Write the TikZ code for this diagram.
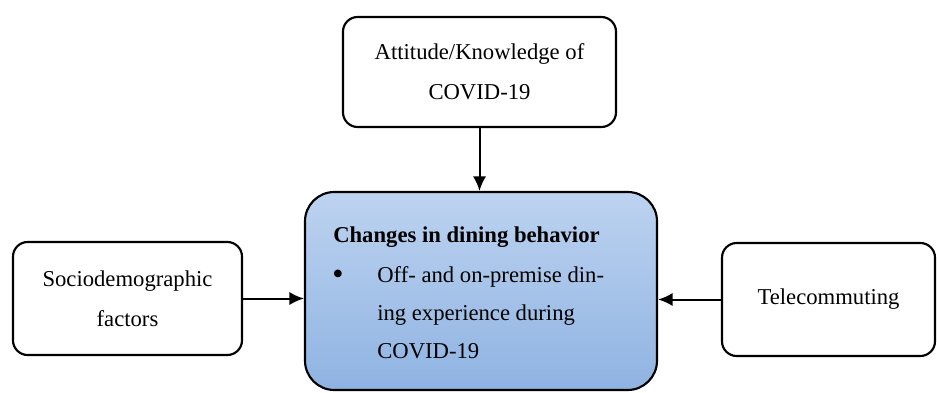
\documentclass[tikz,border=0pt]{standalone}
\usepackage{fontspec}
\setmainfont{Liberation Serif}
\usetikzlibrary{arrows.meta,positioning,calc}
\definecolor{boxtop}{HTML}{BDD3F0}
\definecolor{boxbot}{HTML}{8FB3E2}
\tikzset{
  px/.style={x=0.75pt,y=-0.75pt},
  plainbox/.style={draw=black,line width=1.6pt,rounded corners=11pt,fill=white,align=center,inner sep=0pt,
    font=\fontsize{17}{30}\selectfont},
  mainbox/.style={draw=black,line width=1.6pt,rounded corners=22pt,top color=boxtop,bottom color=boxbot,inner sep=0pt},
  txt/.style={inner sep=0pt,anchor=base west,font=\fontsize{17}{29}\selectfont},
  conn/.style={line width=1.5pt,-{Latex[length=11pt,width=10pt]}}
}
\begin{document}
\begin{tikzpicture}[px]
\useasboundingbox (0,0) rectangle (937,392);
\node[plainbox,minimum width=204.75pt,minimum height=82.5pt] (top) at (479.5,72) {Attitude/Knowledge of\\COVID-19};
\node[plainbox,minimum width=171.75pt,minimum height=84.75pt] (left) at (127.5,298.5) {Sociodemographic\\factors};
\node[plainbox,minimum width=159.75pt,minimum height=84.75pt] (right) at (828.5,299.5) {Telecommuting};
\node[mainbox,minimum width=264pt,minimum height=148.5pt] (center) at (481,291) {};
\node[txt,font=\fontsize{17}{29}\selectfont\bfseries] (title) at (333,242) {Changes in dining behavior};
\node[txt,anchor=base,font=\fontsize{24}{29}\selectfont] (bullet) at (338,284) {\textbullet};
\node[txt] (l1) at (377,282) {Off- and on-premise din-};
\node[txt] (l2) at (377,320) {ing experience during};
\node[txt] (l3) at (377,358) {COVID-19};
\draw[conn] (top.south) -- (top.south |- center.north);
\draw[conn] (left.east) -- (left.east -| center.west);
\draw[conn] (right.west) -- (right.west -| center.east);
\end{tikzpicture}
\end{document}
